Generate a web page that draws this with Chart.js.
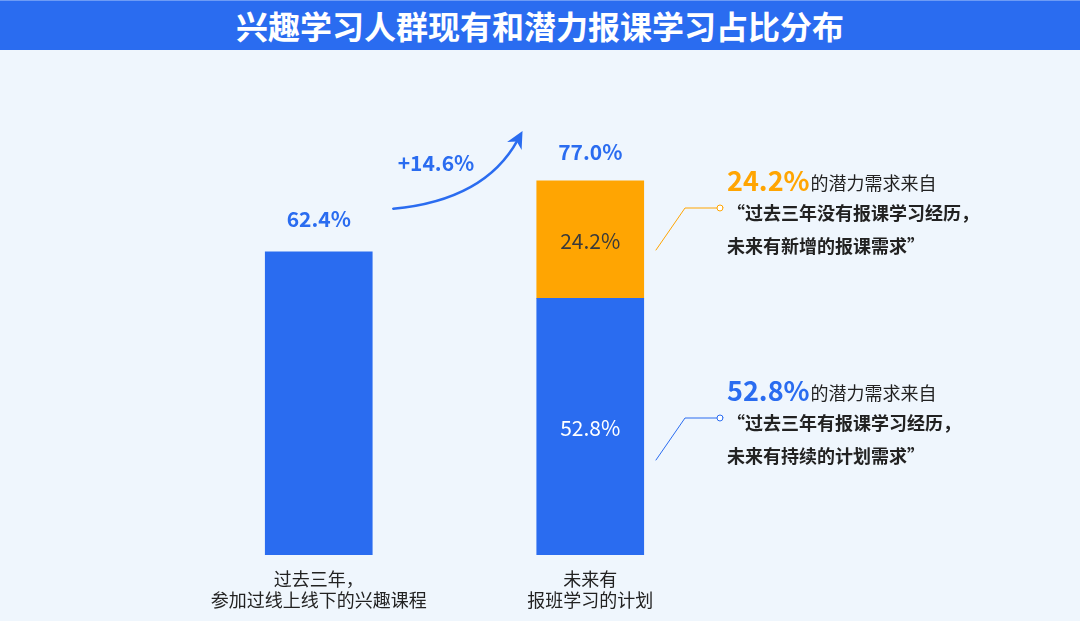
<!DOCTYPE html>
<html>
<head>
<meta charset="utf-8">
<script src="https://cdn.jsdelivr.net/npm/chart.js@4/dist/chart.umd.min.js"></script>
<style>
  html, body { margin: 0; padding: 0; background: #eff6fd; }
  #wrap { position: relative; width: 1080px; height: 621px; }
  #titulo {
    position: absolute; left: 0; top: 0; width: 1080px; height: 50px;
    background: #2a6cf0; color: #fff; text-align: center;
    font: bold 32px "Noto Sans CJK SC", sans-serif; line-height: 49px;
    border-top: 1px solid #6d9bf5; box-sizing: border-box; z-index: 2;
  }
  canvas { position: absolute; left: 0; top: 0; }
</style>
</head>
<body>
<div id="wrap">
  <div id="titulo">兴趣学习人群现有和潜力报课学习占比分布</div>
  <canvas id="grafico" width="1080" height="621"></canvas>
</div>
<script>
// datos
const categorias = [["过去三年，", "参加过线上线下的兴趣课程"], ["未来有", "报班学习的计划"]];
const valoresAzul = [62.4, 52.8];
const valoresNaranja = [null, 24.2];
const crecimiento = "+14.6%";
const notaNaranja = ["24.2%", "的潜力需求来自", "“过去三年没有报课学习经历，", "未来有新增的报课需求”"];
const notaAzul = ["52.8%", "的潜力需求来自", "“过去三年有报课学习经历，", "未来有持续的计划需求”"];

const AZUL = "#2a6cf0";
const NARANJA = "#ffa502";
const FUENTE = '"Noto Sans CJK SC", sans-serif';

// ----------------------------
// etiquetas y anotaciones
// ----------------------------
const anotaciones = {
    id: "anotaciones",
    afterDatasetsDraw(chart) {
        const ctx = chart.ctx;
        const azul = chart.getDatasetMeta(0).data;
        const naranja = chart.getDatasetMeta(1).data;
        ctx.save();
        ctx.textAlign = "center";
        ctx.textBaseline = "middle";

        // totales encima de cada barra
        const separacion = [33, 29];
        categorias.forEach((c, i) => {
            const total = (valoresAzul[i] || 0) + (valoresNaranja[i] || 0);
            const tope = valoresNaranja[i] ? naranja[i] : azul[i];
            ctx.font = "bold 21px " + FUENTE;
            ctx.fillStyle = AZUL;
            ctx.fillText(total.toFixed(1) + "%", tope.x, tope.y - separacion[i]);
        });

        // valores dentro de la barra apilada
        ctx.font = "21px " + FUENTE;
        const n = naranja[1], a = azul[1];
        ctx.fillStyle = "#3a3a3a";
        ctx.fillText(valoresNaranja[1].toFixed(1) + "%", n.x, (n.y + n.base) / 2 + 1);
        ctx.fillStyle = "#ffffff";
        ctx.fillText(valoresAzul[1].toFixed(1) + "%", a.x, (a.y + a.base) / 2 + 1);

        // flecha de crecimiento
        const iz = azul[0];
        const p0 = { x: iz.x + iz.width / 2 + 21, y: iz.y - 43 };
        const p2 = { x: n.x - n.width / 2 - 19, y: n.y - 41 };
        const cp = { x: 485, y: 200 };
        ctx.strokeStyle = AZUL;
        ctx.lineWidth = 2.5;
        ctx.lineCap = "round";
        ctx.beginPath();
        ctx.moveTo(p0.x, p0.y);
        ctx.quadraticCurveTo(cp.x, cp.y, p2.x, p2.y);
        ctx.stroke();
        const ang = Math.atan2(p2.y - cp.y, p2.x - cp.x);
        const punta = { x: p2.x + Math.cos(ang) * 10, y: p2.y + Math.sin(ang) * 10 };
        ctx.fillStyle = AZUL;
        ctx.beginPath();
        ctx.moveTo(punta.x, punta.y);
        ctx.lineTo(punta.x - Math.cos(ang - 0.45) * 19, punta.y - Math.sin(ang - 0.45) * 19);
        ctx.lineTo(punta.x - Math.cos(ang) * 12, punta.y - Math.sin(ang) * 12);
        ctx.lineTo(punta.x - Math.cos(ang + 0.45) * 19, punta.y - Math.sin(ang + 0.45) * 19);
        ctx.closePath();
        ctx.fill();
        ctx.font = "bold 21px " + FUENTE;
        ctx.fillText(crecimiento, 436, 163);

        // notas de la derecha
        const nota = (txt, color, y) => {
            const x0 = 727;
            ctx.textAlign = "left";
            ctx.textBaseline = "alphabetic";
            ctx.font = "bold 27px " + FUENTE;
            ctx.fillStyle = color;
            ctx.fillText(txt[0], x0, y + 9);
            const w = ctx.measureText(txt[0]).width;
            ctx.font = "18px " + FUENTE;
            ctx.fillStyle = "#222";
            ctx.fillText(txt[1], x0 + w + 1, y + 8);
            ctx.textBaseline = "middle";
            ctx.font = "bold 18px " + FUENTE;
            ctx.fillText(txt[2], x0, y + 31);
            ctx.fillText(txt[3], x0, y + 64);
            // linea guia
            ctx.strokeStyle = color;
            ctx.lineWidth = 1;
            ctx.beginPath();
            ctx.moveTo(656, y + 68);
            ctx.lineTo(685, y + 26);
            ctx.lineTo(717, y + 26);
            ctx.stroke();
            ctx.beginPath();
            ctx.arc(720, y + 26, 3, 0, Math.PI * 2);
            ctx.fillStyle = "#fff";
            ctx.fill();
            ctx.stroke();
        };
        nota(notaNaranja, NARANJA, 182);
        nota(notaAzul, AZUL, 392);

        ctx.restore();
    }
};

new Chart(document.getElementById("grafico"), {
    type: "bar",
    data: {
        labels: categorias,
        datasets: [
            { data: valoresAzul, backgroundColor: AZUL, barThickness: 107 },
            { data: valoresNaranja, backgroundColor: NARANJA, barThickness: 107 }
        ]
    },
    options: {
        responsive: false,
        animation: false,
        layout: { padding: { left: 183, right: 354, top: 69, bottom: 0 } },
        plugins: { legend: { display: false }, tooltip: { enabled: false } },
        scales: {
            x: {
                stacked: true,
                grid: { display: false },
                border: { display: false },
                afterFit: s => { s.height = 66; },
                ticks: { color: "#222", padding: 6, font: { family: FUENTE, size: 18, lineHeight: "21px" } }
            },
            y: {
                stacked: true,
                display: false,
                min: 0,
                max: 100
            }
        }
    },
    plugins: [anotaciones]
});
</script>
</body>
</html>
